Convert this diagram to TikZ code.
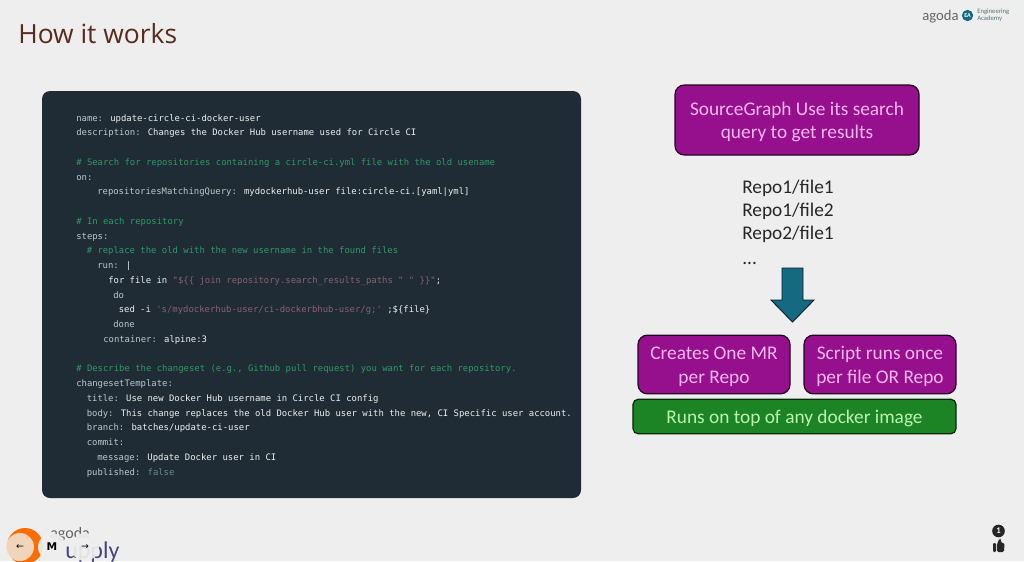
\documentclass[tikz,border=0pt]{standalone}
\usepackage{fontspec}
\setmainfont{Carlito}
\newfontfamily\codefont{DejaVu Sans Mono}
\newfontfamily\titlefont{Open Sans}
\usetikzlibrary{calc}
\definecolor{pagebg}{HTML}{EEEEEE}
\definecolor{panel}{HTML}{1F2C35}
\definecolor{ckey}{HTML}{BCC8CC}
\definecolor{cval}{HTML}{EDF1F2}
\definecolor{ccom}{HTML}{2E9A66}
\definecolor{cstr}{HTML}{8C5F72}
\definecolor{cbool}{HTML}{6E8A92}
\definecolor{purplefill}{HTML}{960F8C}
\definecolor{purpletext}{HTML}{F4B8EE}
\definecolor{greenfill}{HTML}{1C8424}
\definecolor{greentext}{HTML}{BCF2B4}
\definecolor{arrowfill}{HTML}{156A82}
\definecolor{titlecol}{HTML}{5A2A1E}
\newcommand{\K}[1]{\textcolor{ckey}{#1}}
\newcommand{\V}[1]{\textcolor{cval}{#1}}
\newcommand{\C}[1]{\textcolor{ccom}{#1}}
\newcommand{\Q}[1]{\textcolor{cstr}{#1}}
\newcommand{\Sh}{\rule{0pt}{12.7pt}}
\tikzset{
  x=0.75pt,y=-0.75pt,
  codeline/.style={anchor=base west,inner sep=0pt,yshift=-0.2pt,font=\codefont\fontsize{6.69pt}{8pt}\selectfont},
  purplebox/.style={draw=black!75!purplefill,line width=0.9pt,rounded corners=7pt,fill=purplefill,text=purpletext,align=center,inner sep=0pt,font=\fontsize{14.5pt}{17.4pt}\selectfont},
  greenbox/.style={draw=black!70!greenfill,line width=0.9pt,rounded corners=4pt,fill=greenfill,text=greentext,align=center,inner sep=0pt,font=\fontsize{14.5pt}{17.4pt}\selectfont},
  repoline/.style={anchor=base west,inner sep=0pt,text=black!85,font=\fontsize{14.5pt}{17pt}\selectfont},
  navbtn/.style={circle,minimum size=21pt,inner sep=0pt,fill=pagebg,fill opacity=.93,text opacity=1}
}
\begin{document}
\begin{tikzpicture}
\useasboundingbox (0,0) rectangle (1024,561);
\fill[pagebg] (0,0) rectangle (1024,561);
\node[anchor=base west,inner sep=0pt,text=titlecol,font=\titlefont\fontsize{19.8pt}{24pt}\selectfont] (title) at (18,43) {How it works};

% top-right logo
\node[anchor=base west,inner sep=0pt,text=black!60,font=\fontsize{11pt}{14pt}\selectfont] (agodatop) at (922,20) {agoda};
\node[circle,minimum size=8.5pt,inner sep=0pt,fill=arrowfill,text=white,font=\bfseries\fontsize{4.5pt}{5pt}\selectfont] (ealogo) at (967.5,15.5) {EA};
\node[anchor=west,inner sep=0pt,align=left,text=black!45!arrowfill!70,font=\fontsize{5pt}{5pt}\selectfont] (eatext) at (977,15.5) {Engineering\\Academy};

% code panel
\fill[panel,rounded corners=6pt] (42,91) rectangle (581,498);
\node[codeline] (l1) at (76,121) {\K{name:} \V{update-circle-ci-docker-user}};
\node[codeline] (l2) at (76,135.7) {\K{description:} \V{Changes the Docker Hub username used for Circle CI}};
\node[codeline] (l3) at (76,165.2) {\C{\# Search for repositories containing a circle-ci.yml file with the old usename}};
\node[codeline] (l4) at (76,180) {\K{on:}};
\node[codeline] (l5) at (97,194.7) {\K{repositoriesMatchingQuery:} \V{mydockerhub-user file:circle-ci.[yaml|yml]}};
\node[codeline] (l6) at (76,224.2) {\C{\# In each repository}};
\node[codeline] (l7) at (76,239) {\K{steps:}};
\node[codeline] (l8) at (86.5,253.7) {\C{\# replace the old with the new username in the found files}};
\node[codeline] (l9) at (97,268.5) {\K{run:} \V{|}};
\node[codeline] (l10) at (108,283.2) {\V{for file in} \Q{"\$\{\{ join repository.search\_results\_paths " " \}\}"}\V{;}};
\node[codeline] (l11) at (113,298) {\K{do}};
\node[codeline] (l12) at (118.5,312.7) {\V{sed -i} \Q{'s/mydockerhub-user/ci-dockerbhub-user/g;'} \V{;\$\{file\}}};
\node[codeline] (l13) at (113,327.5) {\K{done}};
\node[codeline] (l14) at (103,342.2) {\K{container:} \V{alpine:3}};
\node[codeline] (l15) at (76,371.7) {\C{\# Describe the changeset (e.g., Github pull request) you want for each repository.}};
\node[codeline] (l16) at (76,386.5) {\K{changesetTemplate:}};
\node[codeline] (l17) at (86.5,401.2) {\K{title:} \V{Use new Docker Hub username in Circle CI config}};
\node[codeline] (l18) at (86.5,416) {\K{body:} \V{This change replaces the old Docker Hub user with the new, CI Specific user account.}};
\node[codeline] (l19) at (86.5,430.7) {\K{branch:} \V{batches/update-ci-user}};
\node[codeline] (l20) at (86.5,445.5) {\K{commit:}};
\node[codeline] (l21) at (97,460.2) {\K{message:} \V{Update Docker user in CI}};
\node[codeline] (l22) at (86.5,475) {\K{published:} \textcolor{cbool}{false}};

% right column
\node[purplebox,minimum width=183pt,minimum height=52.5pt] (sg) at (797,120) {\Sh SourceGraph Use its search\\query to get results};
\node[repoline] (r1) at (742,193.5) {Repo1/file1};
\node[repoline] (r2) at (742,216.5) {Repo1/file2};
\node[repoline] (r3) at (742,239.5) {Repo2/file1};
\node[repoline] (r4) at (742,264) {...};
\draw[draw=black!70!arrowfill,line width=0.7pt,fill=arrowfill,line join=miter]
  (782,268) -- (803,268) -- (803,300) -- (814,300) -- (792.5,322) -- (771,300) -- (782,300) -- cycle;
\node[purplebox,minimum width=114pt,minimum height=44pt] (mr) at (714,364.5) {\Sh Creates One MR\\per Repo};
\node[purplebox,minimum width=114pt,minimum height=44pt] (script) at (880,364.5) {\Sh Script runs once\\per file OR Repo};
\node[greenbox,minimum width=242.3pt,minimum height=26pt] (docker) at (794.5,416.5) {\Sh Runs on top of any docker image};

% bottom-left overlay
\fill[orange!85!red] (25,546) circle[radius=13.5pt];
\node[anchor=base west,inner sep=0pt,text=black!60,font=\fontsize{12pt}{14pt}\selectfont] (agodabot) at (50,538) {agoda};
\node[anchor=base west,inner sep=0pt,text=black!50!blue!45!gray,font=\fontsize{18pt}{20pt}\selectfont] (supply) at (65,558) {upply};
\node[navbtn,fill=pagebg!85!orange] (back) at (20,547) {\fontsize{7pt}{9pt}\selectfont\fontspec{DejaVu Sans}←};
\node[navbtn] (mid) at (52,547) {\fontsize{8pt}{9pt}\selectfont\fontspec{DejaVu Sans}\textbf{M}};
\node[navbtn] (next) at (85,547) {\fontsize{7pt}{9pt}\selectfont\fontspec{DejaVu Sans}→};

% bottom-right icons
\node[circle,minimum size=9.5pt,inner sep=0pt,fill=black!85,text=white,font=\bfseries\fontsize{6.5pt}{7pt}\selectfont] (count) at (998.5,531) {1};
\fill[black!85,rounded corners=0.8pt] (993,543) rectangle (996,552);
\fill[black!85,rounded corners=1pt] (997,544) -- (999.5,538.5) -- (1001,539) -- (1001,543) -- (1004.5,543) -- (1004,552) -- (997,552) -- cycle;
\end{tikzpicture}
\end{document}
